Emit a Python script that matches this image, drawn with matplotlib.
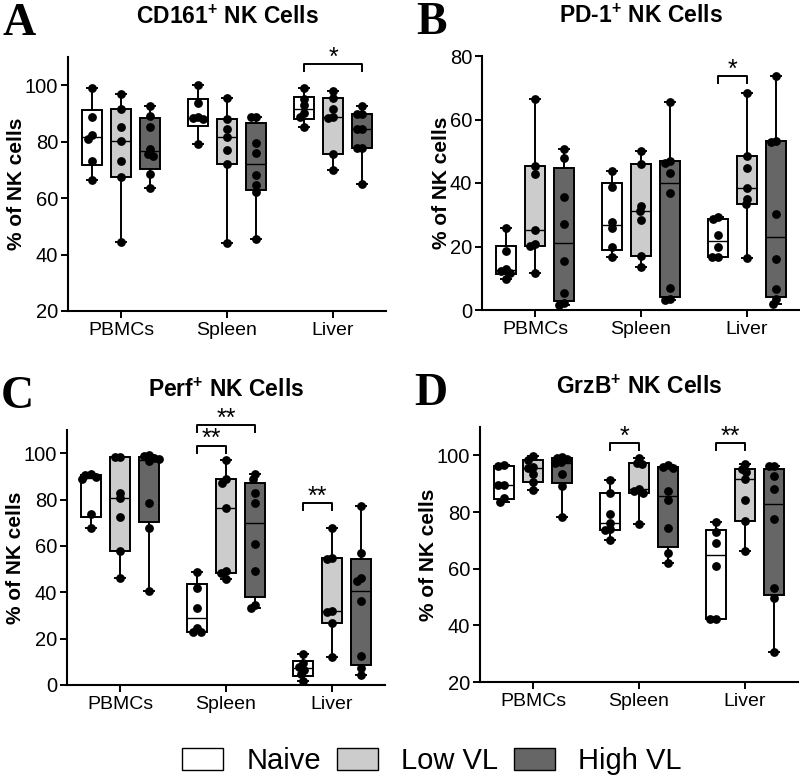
import numpy as np
import matplotlib
matplotlib.use("Agg")
import matplotlib.pyplot as plt
from matplotlib.patches import Patch

plt.rcParams['font.family'] = 'Liberation Sans'
plt.rcParams['mathtext.fontset'] = 'custom'
plt.rcParams['mathtext.rm'] = 'Liberation Sans'
plt.rcParams['mathtext.bf'] = 'Liberation Sans:bold'


# =========================================================
# Data (% of NK cells)
# =========================================================
tissues = ["PBMCs", "Spleen", "Liver"]
groups = ["Naive", "Low VL", "High VL"]
colors = ["#ffffff", "#cccccc", "#666666"]

# A: CD161+
cd161_naive = [[99.0, 88.6, 82.3, 81.1, 73.3, 66.5],
               [100.0, 93.6, 88.8, 88.3, 87.9, 79.1],
               [98.9, 95.0, 92.9, 90.1, 88.9, 85.3]]
cd161_low = [[96.8, 91.5, 85.3, 80.3, 73.0, 67.4, 44.3],
             [95.4, 88.0, 84.4, 81.5, 77.0, 72.1, 44.0],
             [97.8, 95.6, 91.5, 88.6, 88.3, 75.8, 69.9]]
cd161_high = [[92.7, 89.2, 85.3, 77.5, 75.7, 75.0, 68.7, 63.7],
              [88.8, 88.8, 79.7, 76.0, 68.3, 64.8, 62.1, 45.6],
              [92.7, 89.7, 89.7, 84.4, 84.4, 77.7, 77.7, 65.0]]
cd161_sig = [(2, 0, 2, 107.4, "*")]

# B: PD-1+
pd1_naive = [[25.7, 18.5, 12.9, 12.3, 11.8, 9.7],
             [43.9, 38.6, 27.8, 25.9, 19.7, 16.8],
             [29.2, 28.6, 23.6, 19.7, 16.8, 16.8]]
pd1_low = [[66.4, 45.5, 42.8, 25.2, 20.8, 20.2, 11.5],
           [50.2, 46.0, 32.9, 31.2, 28.3, 17.0, 13.6],
           [68.5, 48.5, 44.6, 38.3, 35.0, 33.3, 16.5]]
pd1_high = [[50.7, 47.8, 35.7, 27.0, 15.5, 5.5, 2.1, 1.6],
            [65.6, 46.9, 46.4, 43.3, 36.7, 6.8, 3.4, 3.1],
            [73.8, 53.3, 53.0, 30.1, 16.0, 6.5, 3.4, 1.9]]
pd1_sig = [(2, 0, 1, 73.7, "*")]

# C: Perf+
perf_naive = [[90.9, 90.6, 89.9, 88.8, 73.8, 67.9],
              [48.6, 42.0, 33.4, 24.5, 23.0, 23.0],
              [13.4, 9.4, 7.8, 6.6, 4.6, 1.9]]
perf_low = [[98.3, 98.3, 83.0, 80.6, 72.4, 57.6, 46.3],
            [97.1, 88.8, 87.0, 76.3, 49.2, 48.2, 45.6],
            [67.6, 54.7, 54.4, 31.9, 31.7, 26.6, 12.2]]
perf_high = [[99.2, 98.6, 98.0, 97.5, 96.5, 78.4, 67.6, 40.6],
             [90.9, 88.8, 83.0, 78.7, 60.9, 49.2, 34.5, 33.1],
             [77.4, 56.8, 46.3, 44.9, 36.3, 12.5, 7.2, 4.3]]
perf_sig = [(1, 0, 2, 112.2, "**"), (1, 0, 1, 103.2, "**"), (2, 0, 1, 78.4, "**")]

# D: GrzB+
grzb_naive = [[96.5, 96.2, 89.5, 89.4, 85.0, 83.5],
              [91.3, 86.8, 79.4, 76.2, 74.1, 73.6, 70.0],
              [76.4, 72.9, 69.1, 60.9, 42.3, 42.3]]
grzb_low = [[99.6, 98.5, 96.0, 95.6, 93.3, 90.7, 87.7],
            [99.2, 97.4, 96.8, 88.0, 87.4, 86.8, 75.6],
            [96.8, 95.3, 94.1, 91.5, 84.1, 76.8, 66.2]]
grzb_high = [[99.5, 99.0, 98.6, 97.6, 97.2, 93.3, 89.2, 78.2],
             [96.5, 96.0, 95.6, 87.4, 84.2, 74.4, 65.6, 62.1],
             [96.2, 96.2, 92.7, 88.2, 77.7, 53.2, 49.7, 30.6]]
grzb_sig = [(1, 0, 1, 104.2, "*"), (2, 0, 1, 104.2, "**")]


# =========================================================
# Helpers
# =========================================================
W, H = 800, 778
OFFSET = 0.275
BOX_W = 0.19
DOT_PX = 5.5   # minimum spacing in the swarm (dots may overlap a bit)


def swarm(vals, px_x, px_y):
    # simple beeswarm: put each point as close to the centre as possible
    order = np.argsort(vals)[::-1]
    placed = []
    xs = np.zeros(len(vals))
    for i in order:
        y = vals[i] * px_y
        blocked = []
        for (xp, yp) in placed:
            dy = abs(y - yp)
            if dy < DOT_PX:
                half = np.sqrt(DOT_PX**2 - dy**2)
                blocked.append((xp - half, xp + half))
        cands = [0.0] + [b for iv in blocked for b in iv]
        cands.sort(key=abs)
        for c in cands:
            if all(not (lo + 1e-6 < c < hi - 1e-6) for lo, hi in blocked):
                xs[i] = c
                break
        placed.append((xs[i], y))
    return xs / px_x


def panel(rect, ylim, yticks, data, sig, title, letter):
    ax = fig.add_axes(rect)
    ax.set_xlim(-0.5, 2.5)
    ax.set_ylim(*ylim)
    px_x = rect[2] * W / 3.0
    px_y = rect[3] * H / (ylim[1] - ylim[0])

    for g, series in enumerate(data):
        for t, vals in enumerate(series):
            vals = np.array(vals)
            pos = t + (g - 1) * OFFSET
            q1, med, q3 = np.percentile(vals, [25, 50, 75], method="weibull")
            st = dict(med=med, q1=q1, q3=q3, whislo=vals.min(),
                      whishi=vals.max(), fliers=[])
            ax.bxp([st], positions=[pos], widths=BOX_W, capwidths=0.09,
                   patch_artist=True, showfliers=False,
                   boxprops=dict(facecolor=colors[g], edgecolor="black", linewidth=1.4),
                   medianprops=dict(color="black", linewidth=1.0),
                   whiskerprops=dict(color="black", linewidth=1.4),
                   capprops=dict(color="black", linewidth=1.4),
                   manage_ticks=False, zorder=2)
            xs = swarm(vals, px_x, px_y)
            ax.scatter(pos + xs, vals, s=40, color="black", zorder=3,
                       linewidths=0, clip_on=False)

    tick_h = 7.0 / px_y
    for t, a, b, y, stars in sig:
        x1 = t + (a - 1) * OFFSET
        x2 = t + (b - 1) * OFFSET
        ax.plot([x1, x1, x2, x2], [y - tick_h, y, y, y - tick_h],
                color="black", lw=1.4, clip_on=False)
        ax.annotate(stars, xy=((x1 + x2) / 2, y), xytext=(0, -4),
                    textcoords="offset points", ha="center", va="bottom",
                    fontsize=18, annotation_clip=False)

    ax.set_xticks(range(3))
    ax.set_xticklabels(tissues, fontsize=14)
    ax.set_yticks(yticks)
    ax.tick_params(axis="y", labelsize=14.5, width=1.4, length=5, pad=2)
    ax.tick_params(axis="x", width=1.4, length=5, pad=3)
    for s in ["top", "right"]:
        ax.spines[s].set_visible(False)
    for s in ["left", "bottom"]:
        ax.spines[s].set_linewidth(1.5)
    ax.set_ylabel("% of NK cells", fontsize=15, fontweight="bold", labelpad=-1)

    cx = rect[0] + rect[2] / 2
    top_px = H * (1 - rect[1] - rect[3])
    fig.text(cx, 1 - (top_px - 40) / H, title, ha="center", va="center",
             fontsize=16.5, fontweight="bold")
    fig.text(rect[0] - 66 / W, 1 - (top_px - 22) / H, letter, ha="left",
             va="baseline", fontsize=33, fontweight="bold",
             family="Liberation Serif")
    return ax


# =========================================================
# Figure
# =========================================================
fig = plt.figure(figsize=(W / 100, H / 100), dpi=100)

panel([68 / W, 1 - 311 / H, 318 / W, 254 / H], (20, 110), [20, 40, 60, 80, 100],
      [cd161_naive, cd161_low, cd161_high], cd161_sig,
      r"CD161$^{\mathbf{+}}$ NK Cells", "A")
panel([482 / W, 1 - 310 / H, 318 / W, 254 / H], (0, 80), [0, 20, 40, 60, 80],
      [pd1_naive, pd1_low, pd1_high], pd1_sig,
      r"PD-1$^{\mathbf{+}}$ NK Cells", "B")
panel([67 / W, 1 - 685 / H, 318 / W, 255 / H], (0, 110), [0, 20, 40, 60, 80, 100],
      [perf_naive, perf_low, perf_high], perf_sig,
      r"Perf$^{\mathbf{+}}$ NK Cells", "C")
panel([480 / W, 1 - 682 / H, 318 / W, 255 / H], (20, 110), [20, 40, 60, 80, 100],
      [grzb_naive, grzb_low, grzb_high], grzb_sig,
      r"GrzB$^{\mathbf{+}}$ NK Cells", "D")

handles = [Patch(facecolor=c, edgecolor="black", linewidth=1.0) for c in colors]
fig.legend(handles, groups, loc="center", bbox_to_anchor=(432 / W, 1 - 761 / H),
           ncol=3, frameon=False, fontsize=21, handlelength=1.4,
           handleheight=0.75, handletextpad=0.8, columnspacing=0.55)

fig.savefig("out.png", dpi=100)
